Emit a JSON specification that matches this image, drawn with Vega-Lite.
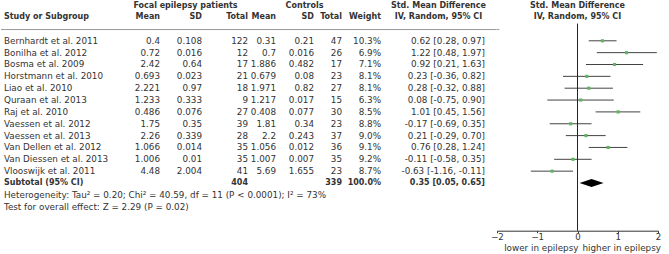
{
  "$schema": "https://vega.github.io/schema/vega-lite/v6.json",
  "padding": 0,
  "background": "white",
  "spacing": 0,
  "bounds": "flush",
  "config": {
    "view": {"stroke": null},
    "text": {"font": "DejaVu Sans", "fontSize": 8.8, "fill": "#333333", "baseline": "middle"},
    "concat": {"spacing": 0}
  },
  "datasets": {
    "studies": [
      {"study": "Bernhardt et al. 2011", "fm": "0.4", "fsd": "0.108", "fn": 122, "cm": "0.31", "csd": "0.21", "cn": 47, "w": "10.3%", "ci": "0.62 [0.28, 0.97]", "smd": 0.62, "lo": 0.28, "hi": 0.97, "row": 0},
      {"study": "Bonilha et al. 2012", "fm": "0.72", "fsd": "0.016", "fn": 12, "cm": "0.7", "csd": "0.016", "cn": 26, "w": "6.9%", "ci": "1.22 [0.48, 1.97]", "smd": 1.22, "lo": 0.48, "hi": 1.97, "row": 1},
      {"study": "Bosma et al. 2009", "fm": "2.42", "fsd": "0.64", "fn": 17, "cm": "1.886", "csd": "0.482", "cn": 17, "w": "7.1%", "ci": "0.92 [0.21, 1.63]", "smd": 0.92, "lo": 0.21, "hi": 1.63, "row": 2},
      {"study": "Horstmann et al. 2010", "fm": "0.693", "fsd": "0.023", "fn": 21, "cm": "0.679", "csd": "0.08", "cn": 23, "w": "8.1%", "ci": "0.23 [-0.36, 0.82]", "smd": 0.23, "lo": -0.36, "hi": 0.82, "row": 3},
      {"study": "Liao et al. 2010", "fm": "2.221", "fsd": "0.97", "fn": 18, "cm": "1.971", "csd": "0.82", "cn": 27, "w": "8.1%", "ci": "0.28 [-0.32, 0.88]", "smd": 0.28, "lo": -0.32, "hi": 0.88, "row": 4},
      {"study": "Quraan et al. 2013", "fm": "1.233", "fsd": "0.333", "fn": 9, "cm": "1.217", "csd": "0.017", "cn": 15, "w": "6.3%", "ci": "0.08 [-0.75, 0.90]", "smd": 0.08, "lo": -0.75, "hi": 0.90, "row": 5},
      {"study": "Raj et al. 2010", "fm": "0.486", "fsd": "0.076", "fn": 27, "cm": "0.408", "csd": "0.077", "cn": 30, "w": "8.5%", "ci": "1.01 [0.45, 1.56]", "smd": 1.01, "lo": 0.45, "hi": 1.56, "row": 6},
      {"study": "Vaessen et al. 2012", "fm": "1.75", "fsd": "0.35", "fn": 39, "cm": "1.81", "csd": "0.34", "cn": 23, "w": "8.8%", "ci": "-0.17 [-0.69, 0.35]", "smd": -0.17, "lo": -0.69, "hi": 0.35, "row": 7},
      {"study": "Vaessen et al. 2013", "fm": "2.26", "fsd": "0.339", "fn": 28, "cm": "2.2", "csd": "0.243", "cn": 37, "w": "9.0%", "ci": "0.21 [-0.29, 0.70]", "smd": 0.21, "lo": -0.29, "hi": 0.70, "row": 8},
      {"study": "Van Dellen et al. 2012", "fm": "1.066", "fsd": "0.014", "fn": 35, "cm": "1.056", "csd": "0.012", "cn": 36, "w": "9.1%", "ci": "0.76 [0.28, 1.24]", "smd": 0.76, "lo": 0.28, "hi": 1.24, "row": 9},
      {"study": "Van Diessen et al. 2013", "fm": "1.006", "fsd": "0.01", "fn": 35, "cm": "1.007", "csd": "0.007", "cn": 35, "w": "9.2%", "ci": "-0.11 [-0.58, 0.35]", "smd": -0.11, "lo": -0.58, "hi": 0.35, "row": 10},
      {"study": "Vlooswijk et al. 2011", "fm": "4.48", "fsd": "2.004", "fn": 41, "cm": "5.69", "csd": "1.655", "cn": 23, "w": "8.7%", "ci": "-0.63 [-1.16, -0.11]", "smd": -0.63, "lo": -1.16, "hi": -0.11, "row": 11}
    ],
    "total": [
      {"label": "Subtotal (95% CI)", "fn": 404, "cn": 339, "w": "100.0%", "ci": "0.35 [0.05, 0.65]", "smd": 0.35, "lo": 0.05, "hi": 0.65, "row": 12}
    ],
    "notes": [
      {"note": "Heterogeneity: Tau² = 0.20; Chi² = 40.59, df = 11 (P < 0.0001); I² = 73%", "row": 13},
      {"note": "Test for overall effect: Z = 2.29 (P = 0.02)", "row": 14}
    ]
  },
  "hconcat": [
    {
      "width": 130, "height": 254,
      "layer": [
        {"data": {"name": "studies"}, "mark": {"type": "text", "align": "left", "dx": 3},
         "encoding": {"x": {"value": 0}, "y": {"field": "row", "type": "quantitative", "axis": null, "scale": {"domain": [-3.443, 17.992], "reverse": true, "nice": false, "zero": false}}, "text": {"field": "study", "type": "nominal"}}},
        {"data": {"name": "total"}, "mark": {"type": "text", "align": "left", "dx": 3, "fontWeight": "bold", "fontSize": 8},
         "encoding": {"x": {"value": 0}, "y": {"field": "row", "type": "quantitative", "axis": null}, "text": {"field": "label", "type": "nominal"}}},
        {"data": {"name": "notes"}, "mark": {"type": "text", "align": "left", "dx": 3},
         "encoding": {"x": {"value": 0}, "y": {"field": "row", "type": "quantitative", "axis": null}, "text": {"field": "note", "type": "nominal"}}},
        {"data": {"values": [{}]}, "mark": {"type": "text", "align": "left", "dx": 3, "fontWeight": "bold", "fontSize": 8},
         "encoding": {"x": {"value": 0}, "y": {"datum": -1.98}, "text": {"value": "Study or Subgroup"}}},
        {"data": {"values": [{}]}, "mark": {"type": "rule", "color": "#999999"},
         "encoding": {"x": {"value": 0}, "x2": {"value": "width"}, "y": {"datum": -0.95}}}
      ]
    },
    {
      "width": 29, "height": 254,
      "layer": [
        {"data": {"name": "studies"}, "mark": {"type": "text", "align": "right"},
         "encoding": {"x": {"value": "width"}, "y": {"field": "row", "type": "quantitative", "axis": null, "scale": {"domain": [-3.443, 17.992], "reverse": true, "nice": false, "zero": false}}, "text": {"field": "fm", "type": "nominal"}}},
        {"data": {"values": [{}]}, "mark": {"type": "text", "align": "right", "fontWeight": "bold", "fontSize": 8},
         "encoding": {"x": {"value": "width"}, "y": {"datum": -1.98}, "text": {"value": "Mean"}}},
        {"data": {"values": [{}]}, "mark": {"type": "rule", "color": "#999999"},
         "encoding": {"x": {"value": 0}, "x2": {"value": "width"}, "y": {"datum": -0.95}}}
      ]
    },
    {
      "width": 42, "height": 254,
      "layer": [
        {"data": {"name": "studies"}, "mark": {"type": "text", "align": "right"},
         "encoding": {"x": {"value": "width"}, "y": {"field": "row", "type": "quantitative", "axis": null, "scale": {"domain": [-3.443, 17.992], "reverse": true, "nice": false, "zero": false}}, "text": {"field": "fsd", "type": "nominal"}}},
        {"data": {"values": [{}]}, "mark": {"type": "text", "align": "right", "fontWeight": "bold", "fontSize": 8},
         "encoding": {"x": {"value": "width"}, "y": {"datum": -1.98}, "text": {"value": "SD"}}},
        {"data": {"values": [{}]}, "mark": {"type": "text", "align": "center", "dx": 25.5, "fontWeight": "bold", "fontSize": 8},
         "encoding": {"x": {"value": 0}, "y": {"datum": -2.95}, "text": {"value": "Focal epilepsy patients"}}},
        {"data": {"values": [{}]}, "mark": {"type": "rule", "color": "#999999"},
         "encoding": {"x": {"value": 0}, "x2": {"value": "width"}, "y": {"datum": -0.95}}}
      ]
    },
    {
      "width": 46, "height": 254,
      "layer": [
        {"data": {"name": "studies"}, "mark": {"type": "text", "align": "right"},
         "encoding": {"x": {"value": "width"}, "y": {"field": "row", "type": "quantitative", "axis": null, "scale": {"domain": [-3.443, 17.992], "reverse": true, "nice": false, "zero": false}}, "text": {"field": "fn", "type": "nominal"}}},
        {"data": {"name": "total"}, "mark": {"type": "text", "align": "right", "fontWeight": "bold", "fontSize": 8},
         "encoding": {"x": {"value": "width"}, "y": {"field": "row", "type": "quantitative", "axis": null}, "text": {"field": "fn", "type": "nominal"}}},
        {"data": {"values": [{}]}, "mark": {"type": "text", "align": "right", "fontWeight": "bold", "fontSize": 8},
         "encoding": {"x": {"value": "width"}, "y": {"datum": -1.98}, "text": {"value": "Total"}}},
        {"data": {"values": [{}]}, "mark": {"type": "rule", "color": "#999999"},
         "encoding": {"x": {"value": 0}, "x2": {"value": "width"}, "y": {"datum": -0.95}}}
      ]
    },
    {
      "width": 28, "height": 254,
      "layer": [
        {"data": {"name": "studies"}, "mark": {"type": "text", "align": "right"},
         "encoding": {"x": {"value": "width"}, "y": {"field": "row", "type": "quantitative", "axis": null, "scale": {"domain": [-3.443, 17.992], "reverse": true, "nice": false, "zero": false}}, "text": {"field": "cm", "type": "nominal"}}},
        {"data": {"values": [{}]}, "mark": {"type": "text", "align": "right", "fontWeight": "bold", "fontSize": 8},
         "encoding": {"x": {"value": "width"}, "y": {"datum": -1.98}, "text": {"value": "Mean"}}},
        {"data": {"values": [{}]}, "mark": {"type": "rule", "color": "#999999"},
         "encoding": {"x": {"value": 0}, "x2": {"value": "width"}, "y": {"datum": -0.95}}}
      ]
    },
    {
      "width": 38, "height": 254,
      "layer": [
        {"data": {"name": "studies"}, "mark": {"type": "text", "align": "right"},
         "encoding": {"x": {"value": "width"}, "y": {"field": "row", "type": "quantitative", "axis": null, "scale": {"domain": [-3.443, 17.992], "reverse": true, "nice": false, "zero": false}}, "text": {"field": "csd", "type": "nominal"}}},
        {"data": {"values": [{}]}, "mark": {"type": "text", "align": "right", "fontWeight": "bold", "fontSize": 8},
         "encoding": {"x": {"value": "width"}, "y": {"datum": -1.98}, "text": {"value": "SD"}}},
        {"data": {"values": [{}]}, "mark": {"type": "text", "align": "center", "dx": 28.5, "fontWeight": "bold", "fontSize": 8},
         "encoding": {"x": {"value": 0}, "y": {"datum": -2.95}, "text": {"value": "Controls"}}},
        {"data": {"values": [{}]}, "mark": {"type": "rule", "color": "#999999"},
         "encoding": {"x": {"value": 0}, "x2": {"value": "width"}, "y": {"datum": -0.95}}}
      ]
    },
    {
      "width": 28, "height": 254,
      "layer": [
        {"data": {"name": "studies"}, "mark": {"type": "text", "align": "right"},
         "encoding": {"x": {"value": "width"}, "y": {"field": "row", "type": "quantitative", "axis": null, "scale": {"domain": [-3.443, 17.992], "reverse": true, "nice": false, "zero": false}}, "text": {"field": "cn", "type": "nominal"}}},
        {"data": {"name": "total"}, "mark": {"type": "text", "align": "right", "fontWeight": "bold", "fontSize": 8},
         "encoding": {"x": {"value": "width"}, "y": {"field": "row", "type": "quantitative", "axis": null}, "text": {"field": "cn", "type": "nominal"}}},
        {"data": {"values": [{}]}, "mark": {"type": "text", "align": "right", "fontWeight": "bold", "fontSize": 8},
         "encoding": {"x": {"value": "width"}, "y": {"datum": -1.98}, "text": {"value": "Total"}}},
        {"data": {"values": [{}]}, "mark": {"type": "rule", "color": "#999999"},
         "encoding": {"x": {"value": 0}, "x2": {"value": "width"}, "y": {"datum": -0.95}}}
      ]
    },
    {
      "width": 39, "height": 254,
      "layer": [
        {"data": {"name": "studies"}, "mark": {"type": "text", "align": "right"},
         "encoding": {"x": {"value": "width"}, "y": {"field": "row", "type": "quantitative", "axis": null, "scale": {"domain": [-3.443, 17.992], "reverse": true, "nice": false, "zero": false}}, "text": {"field": "w", "type": "nominal"}}},
        {"data": {"name": "total"}, "mark": {"type": "text", "align": "right", "fontWeight": "bold", "fontSize": 8},
         "encoding": {"x": {"value": "width"}, "y": {"field": "row", "type": "quantitative", "axis": null}, "text": {"field": "w", "type": "nominal"}}},
        {"data": {"values": [{}]}, "mark": {"type": "text", "align": "right", "fontWeight": "bold", "fontSize": 8},
         "encoding": {"x": {"value": "width"}, "y": {"datum": -1.98}, "text": {"value": "Weight"}}},
        {"data": {"values": [{}]}, "mark": {"type": "rule", "color": "#999999"},
         "encoding": {"x": {"value": 0}, "x2": {"value": "width"}, "y": {"datum": -0.95}}}
      ]
    },
    {
      "width": 115.7, "height": 254,
      "layer": [
        {"data": {"name": "studies"}, "mark": {"type": "text", "align": "right", "dx": -11.7},
         "encoding": {"x": {"value": "width"}, "y": {"field": "row", "type": "quantitative", "axis": null, "scale": {"domain": [-3.443, 17.992], "reverse": true, "nice": false, "zero": false}}, "text": {"field": "ci", "type": "nominal"}}},
        {"data": {"name": "total"}, "mark": {"type": "text", "align": "right", "dx": -11.7, "fontWeight": "bold", "fontSize": 8},
         "encoding": {"x": {"value": "width"}, "y": {"field": "row", "type": "quantitative", "axis": null}, "text": {"field": "ci", "type": "nominal"}}},
        {"data": {"values": [{}]}, "mark": {"type": "text", "align": "center", "dx": 57.5, "fontWeight": "bold", "fontSize": 8},
         "encoding": {"x": {"value": 0}, "y": {"datum": -2.95}, "text": {"value": "Std. Mean Difference"}}},
        {"data": {"values": [{}]}, "mark": {"type": "text", "align": "center", "dx": 57.5, "fontWeight": "bold", "fontSize": 8},
         "encoding": {"x": {"value": 0}, "y": {"datum": -1.98}, "text": {"value": "IV, Random, 95% CI"}}},
        {"data": {"values": [{}]}, "mark": {"type": "rule", "color": "#999999"},
         "encoding": {"x": {"value": 0}, "x2": {"value": "width"}, "y": {"datum": -0.95}}}
      ]
    },
    {
      "width": 161, "height": 230.7,
      "layer": [
        {"data": {"name": "studies"}, "mark": {"type": "rule", "color": "#444444"},
         "encoding": {
           "x": {"field": "lo", "type": "quantitative", "scale": {"domain": [-2, 2], "nice": false, "zero": false},
                 "axis": {"values": [-2, -1, 0, 1, 2], "title": null, "grid": false, "tickSize": 2, "labelPadding": 0, "labelFont": "DejaVu Sans", "labelFontSize": 8.6, "labelColor": "#333333", "domainColor": "#333333", "tickColor": "#333333", "labelFlush": false}},
           "x2": {"field": "hi"},
           "y": {"field": "row", "type": "quantitative", "axis": null, "scale": {"domain": [-3.443, 16.025], "reverse": true, "nice": false, "zero": false}}}},
        {"data": {"values": [{}]}, "mark": {"type": "rule", "color": "#999999"},
         "encoding": {"x": {"value": 0}, "x2": {"datum": 2.31}, "y": {"datum": -0.95}}},
        {"data": {"values": [{}]}, "mark": {"type": "rule", "color": "#222222"},
         "encoding": {"x": {"datum": 0}, "y": {"datum": -1.45}, "y2": {"value": "height"}}},
        {"data": {"name": "studies"}, "mark": {"type": "point", "shape": "square", "filled": true, "size": 10, "color": "#5cb85c", "opacity": 1},
         "encoding": {"x": {"field": "smd", "type": "quantitative"}, "y": {"field": "row", "type": "quantitative"}}},
        {"data": {"name": "total"}, "mark": {"type": "point", "shape": "M-1,0L0,-0.33L1,0L0,0.33Z", "filled": true, "size": 576, "color": "#000000", "opacity": 1},
         "encoding": {"x": {"field": "smd", "type": "quantitative"}, "y": {"field": "row", "type": "quantitative"}}},
        {"data": {"values": [{}]}, "mark": {"type": "text", "align": "center", "fontWeight": "bold", "fontSize": 8},
         "encoding": {"x": {"datum": 0}, "y": {"datum": -2.95}, "text": {"value": "Std. Mean Difference"}}},
        {"data": {"values": [{}]}, "mark": {"type": "text", "align": "center", "fontWeight": "bold", "fontSize": 8},
         "encoding": {"x": {"datum": 0}, "y": {"datum": -1.98}, "text": {"value": "IV, Random, 95% CI"}}},
        {"data": {"values": [{}]}, "mark": {"type": "text", "align": "right", "dx": 1},
         "encoding": {"x": {"datum": 0}, "y": {"datum": 17.485}, "text": {"value": "lower in epilepsy"}}},
        {"data": {"values": [{}]}, "mark": {"type": "text", "align": "left", "dx": 5},
         "encoding": {"x": {"datum": 0}, "y": {"datum": 17.485}, "text": {"value": "higher in epilepsy"}}}
      ]
    }
  ]
}
